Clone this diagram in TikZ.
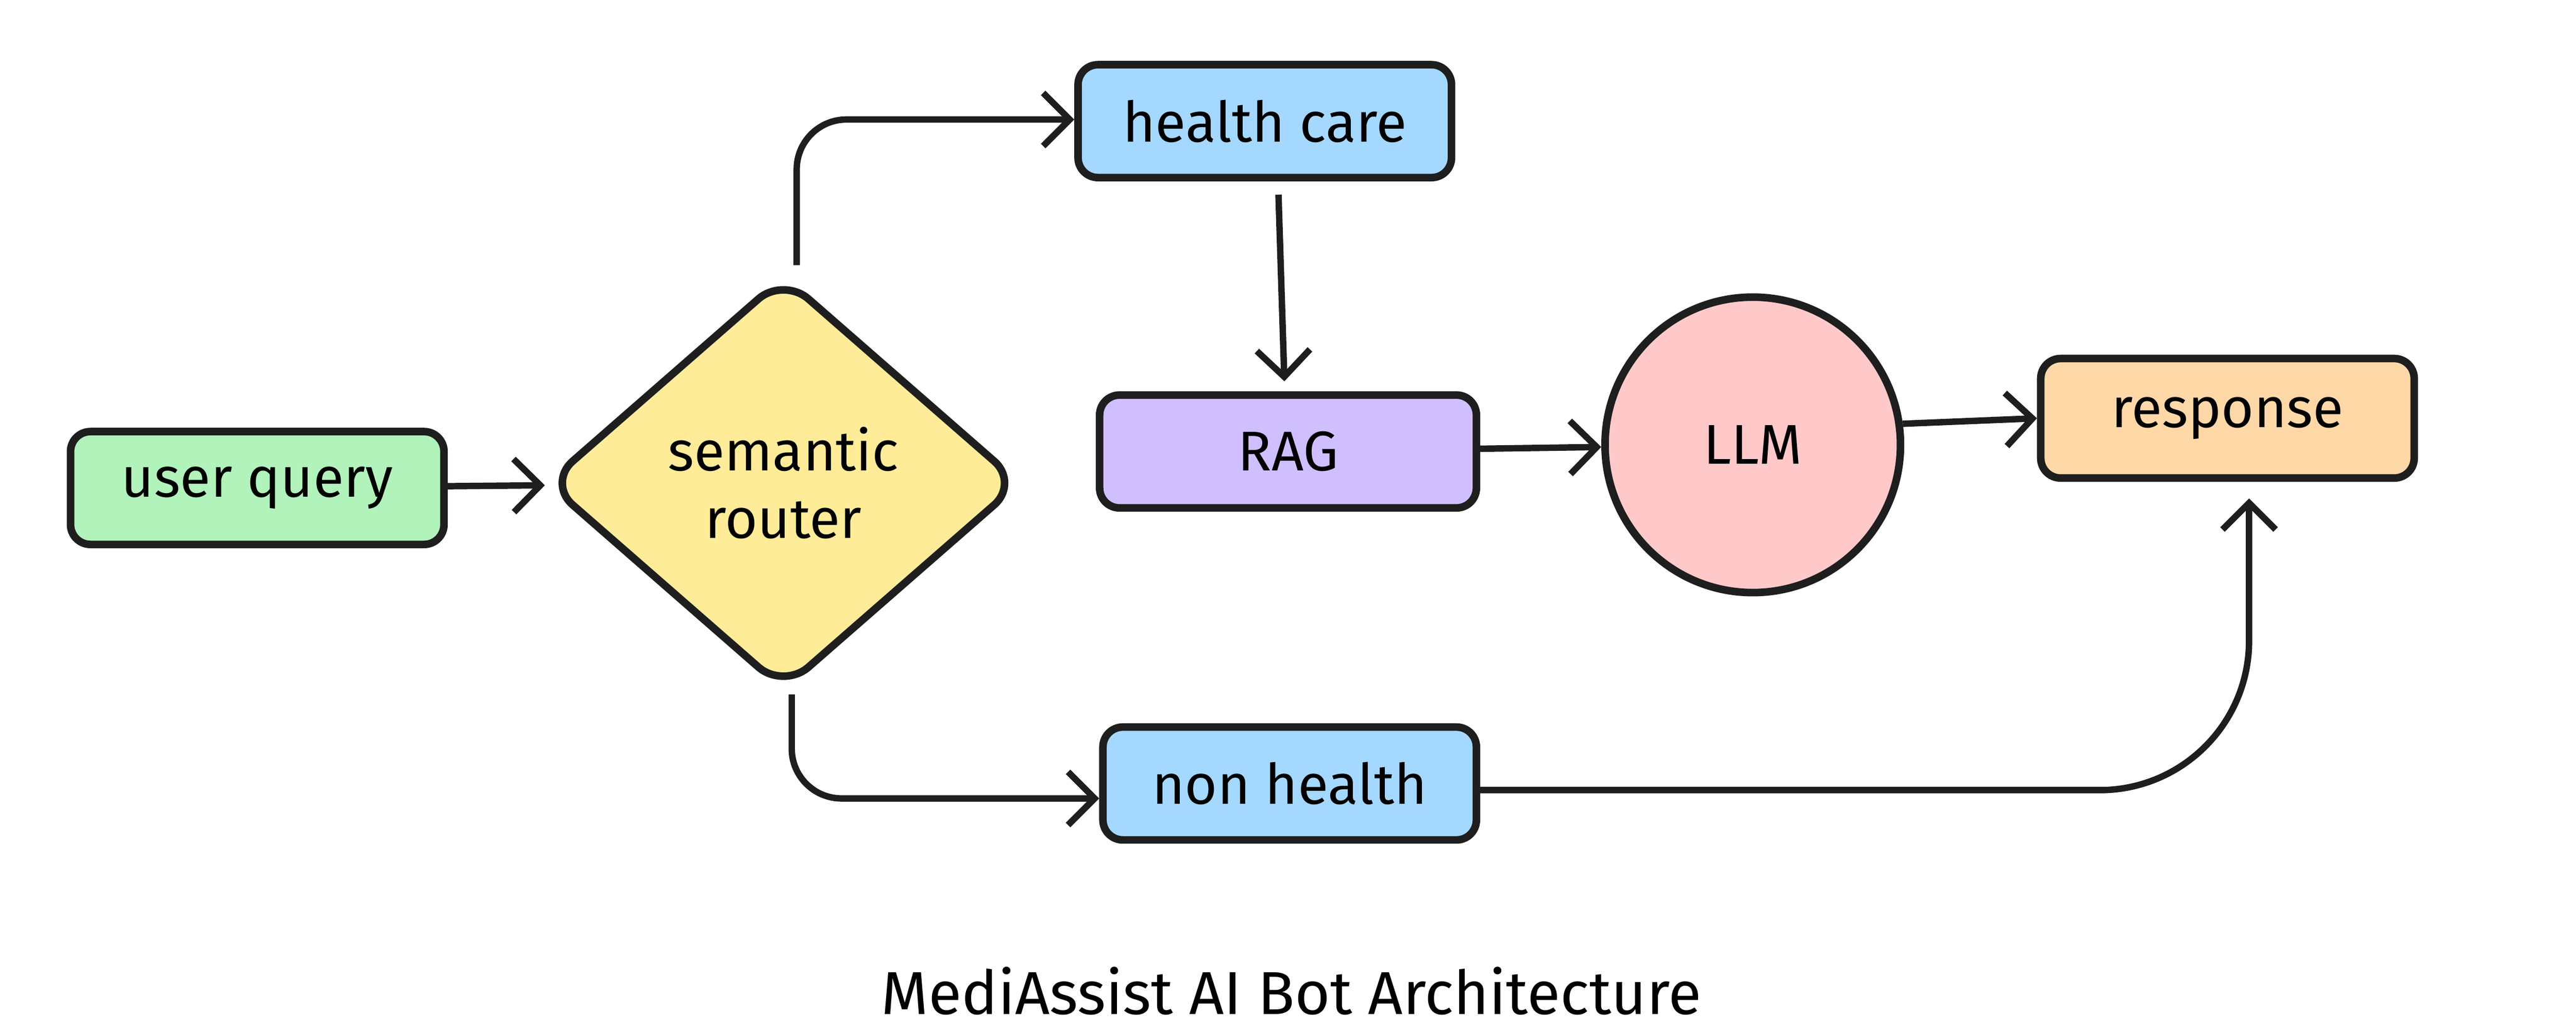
\documentclass[tikz,border=0pt]{standalone}
\usepackage{fontspec}
\setmainfont{Fira Sans}
\usepackage{tikz}
\usetikzlibrary{arrows.meta, positioning, shapes.geometric}
\definecolor{ink}{HTML}{1E1E1E}
\definecolor{querygreen}{HTML}{B2F2BB}
\definecolor{routeryellow}{HTML}{FFEC99}
\definecolor{branchblue}{HTML}{A5D8FF}
\definecolor{ragpurple}{HTML}{D0BFFF}
\definecolor{llmpink}{HTML}{FFC9C9}
\definecolor{answerorange}{HTML}{FFD8A8}

\begin{document}
\begin{tikzpicture}[
    x=0.1mm, y=-0.1mm,
    box/.style=
        {draw=ink, line width=1.3pt, rounded corners=1.2mm, minimum width=2.25cm,
         minimum height=6.8mm, font=\fontsize{9.6}{11.5}\selectfont},
    router/.style=
        {draw=ink, line width=1.3pt, diamond, rounded corners=2mm, aspect=1.15,
         minimum width=2.86cm, minimum height=2.5cm, align=center,
         font=\fontsize{9.6}{11.6}\selectfont},
    model/.style=
        {draw=ink, line width=1.3pt, circle, minimum size=1.78cm,
         font=\fontsize{9.6}{11.5}\selectfont},
    flow/.style=
        {draw=ink, line width=1.1pt, -{Straight Barb[length=1.6mm,width=3.2mm]}}]
    \useasboundingbox (0,0) rectangle (1552,620.3);
    \node [box, fill=querygreen] (query) at (155,294) {user query};
    \node [router, fill=routeryellow] (router) at (472,291) {semantic\\router};
    \node [box, fill=branchblue] (health) at (762,73) {health care};
    \node [box, fill=ragpurple, minimum width=2.27cm] (rag) at (776,272) {RAG};
    \node [model, fill=llmpink] (llm) at (1056,268) {LLM};
    \node [box, fill=answerorange, minimum height=7.2mm] (response) at (1342,252) {response};
    \node [box, fill=branchblue] (nonhealth) at (777,472) {non health};
    \node [font=\fontsize{10.4}{12}\selectfont] (title) at (778,597)
        {MediAssist AI Bot Architecture};
    % connectors
    \draw [flow] (query) -- (router);
    \draw [flow, rounded corners=3mm, shorten <=0.4mm]
        ([xshift=0.8mm]router.north) |- ([yshift=0.1mm]health.west);
    \draw [flow, rounded corners=3mm]
        ([xshift=0.5mm]router.south) |- ([yshift=-0.9mm]nonhealth.west);
    \draw [flow, shorten <=0.8mm, shorten >=0.6mm]
        ([xshift=0.8mm]health.south) -- ([xshift=-0.2mm]rag.north);
    \draw [flow] (rag) -- (llm);
    \draw [flow] (llm.8) -- (response.west);
    \draw [flow, rounded corners=9mm, shorten >=1mm]
        ([yshift=-0.4mm]nonhealth.east) -| ([xshift=1.3mm]response.south);
\end{tikzpicture}
\end{document}
